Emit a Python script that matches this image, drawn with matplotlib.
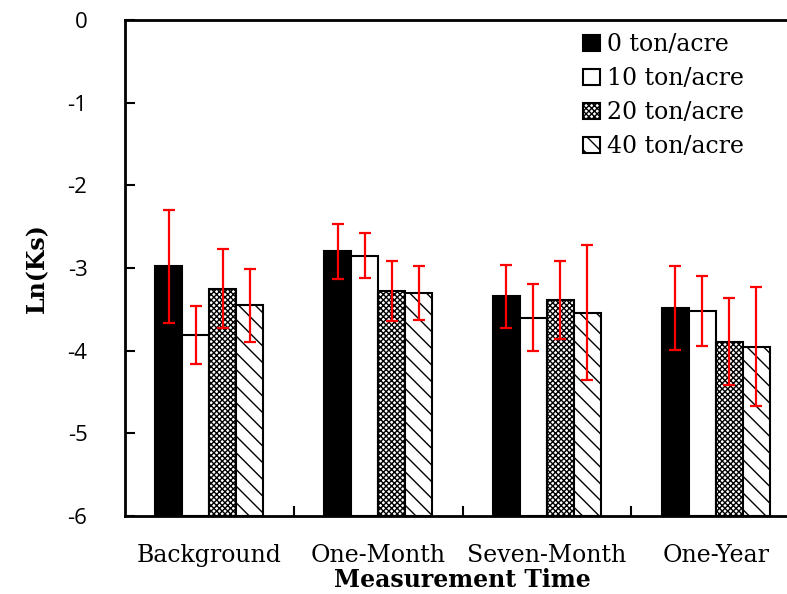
import matplotlib
matplotlib.use("Agg")
import matplotlib.pyplot as plt
import numpy as np

plt.rcParams['axes.unicode_minus'] = False
plt.rcParams['hatch.linewidth'] = 1.0

groups = ["Background", "One-Month", "Seven-Month", "One-Year"]
series = ["0 ton/acre", "10 ton/acre", "20 ton/acre", "40 ton/acre"]

ton0 = [-2.98, -2.80, -3.34, -3.48]
ton10 = [-3.81, -2.85, -3.60, -3.52]
ton20 = [-3.25, -3.28, -3.39, -3.89]
ton40 = [-3.45, -3.30, -3.54, -3.95]

err0 = [0.68, 0.33, 0.38, 0.51]
err10 = [0.35, 0.27, 0.41, 0.42]
err20 = [0.48, 0.36, 0.47, 0.53]
err40 = [0.44, 0.33, 0.82, 0.72]

values = [ton0, ton10, ton20, ton40]
errors = [err0, err10, err20, err40]
faces = ["black", "white", "white", "white"]
hatches = [None, None, "xxxxxx", "\\\\"]

serif = "DejaVu Serif"

fig = plt.figure(figsize=(7.87, 5.94), dpi=100)
ax = fig.add_axes([125 / 787, 1 - 516 / 594, 675 / 787, 496 / 594])

base = -6
x = np.arange(len(groups))
w = 0.16
for i in range(4):
    pos = x + (i - 1.5) * w
    heights = np.array(values[i]) - base
    ax.bar(pos, heights, w, bottom=base, color=faces[i], edgecolor="black",
           linewidth=1.5, hatch=hatches[i], label=series[i], zorder=2)
    ax.errorbar(pos, values[i], yerr=errors[i], fmt="none", ecolor="red",
                elinewidth=1.6, capsize=4.5, capthick=1.6, zorder=3)

ax.set_xlim(-0.5, 3.5)
ax.set_ylim(-6, 0)
ax.set_yticks(range(-6, 1))
ax.set_yticklabels([str(v) for v in range(-6, 1)], family="Open Sans", fontsize=16)
ax.set_xticks(x)
ax.set_xticklabels(groups, family=serif, fontsize=17)
ax.set_xticks([0.5, 1.5, 2.5], minor=True)
ax.tick_params(axis="x", which="major", length=0, pad=20)
ax.tick_params(axis="x", which="minor", direction="in", length=7, width=1.5)
ax.tick_params(axis="y", direction="in", length=7, width=1.5, pad=27)
for sp in ax.spines.values():
    sp.set_linewidth(2)
ax.spines["right"].set_visible(False)

ax.set_xlabel("Measurement Time", family=serif, fontweight="bold",
              fontsize=17, labelpad=1)
ax.set_ylabel("Ln(Ks)", family=serif, fontweight="bold",
              fontsize=17, labelpad=13)

ax.legend(loc="upper left", bbox_to_anchor=(0.663, 0.995), frameon=False,
          prop={"family": serif, "size": 17},
          handlelength=0.7, handleheight=0.7, handletextpad=0.3,
          labelspacing=0.47, borderaxespad=0.05)

fig.savefig("out.png", dpi=100)
